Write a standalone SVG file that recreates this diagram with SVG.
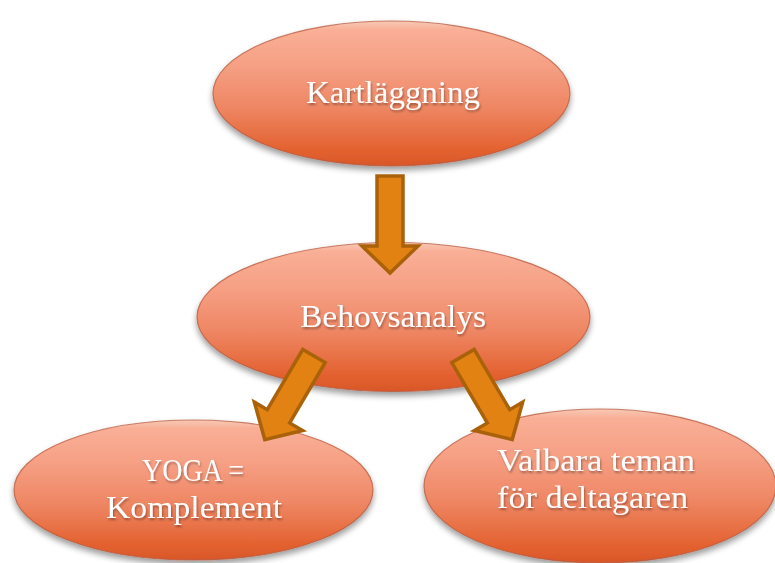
<svg xmlns="http://www.w3.org/2000/svg" width="775" height="563" viewBox="0 0 775 563">
  <defs>
    <linearGradient id="fillG" x1="0" y1="0" x2="0" y2="1">
      <stop offset="0" stop-color="#F7C9B6"/>
      <stop offset="0.06" stop-color="#F9AF96"/>
      <stop offset="0.3" stop-color="#F6A085"/>
      <stop offset="0.6" stop-color="#EE8663"/>
      <stop offset="0.9" stop-color="#E3602E"/>
      <stop offset="1" stop-color="#D8572B"/>
    </linearGradient>
    <filter id="shadow" x="-10%" y="-10%" width="120%" height="130%">
      <feGaussianBlur in="SourceAlpha" stdDeviation="3"/>
      <feOffset dx="0" dy="4" result="b"/>
      <feComponentTransfer><feFuncA type="linear" slope="0.4"/></feComponentTransfer>
      <feMerge><feMergeNode/><feMergeNode in="SourceGraphic"/></feMerge>
    </filter>
    <filter id="tshadow" x="-5%" y="-20%" width="110%" height="150%">
      <feGaussianBlur in="SourceAlpha" stdDeviation="1"/>
      <feOffset dx="1" dy="1.5"/>
      <feComponentTransfer><feFuncA type="linear" slope="0.35"/></feComponentTransfer>
      <feMerge><feMergeNode/><feMergeNode in="SourceGraphic"/></feMerge>
    </filter>
    <path id="arrow" d="M-13,0 L13,0 L13,70 L28,70 L0,97 L-28,70 L-13,70 Z"/>
  </defs>
  <style>
    .node { fill: url(#fillG); stroke: #B85A3E; stroke-opacity: 0.75; stroke-width: 1.2; filter: url(#shadow); }
    .lbl { font-family: "Liberation Serif", "DejaVu Serif", serif; font-size: 32px; fill: #FFFFFF; filter: url(#tshadow); }
    .arr { fill: #E28212; stroke: #A9620A; stroke-width: 3.5; stroke-linejoin: miter; }
  </style>

  <g id="node-kartlaggning">
    <ellipse class="node" cx="391.5" cy="93.5" rx="178.5" ry="72.5"/>
    <text class="lbl" x="393" y="103" text-anchor="middle" textLength="174" lengthAdjust="spacingAndGlyphs">Kartläggning</text>
  </g>

  <g id="node-behovsanalys">
    <ellipse class="node" cx="393.5" cy="317" rx="196.5" ry="74.5"/>
    <text class="lbl" x="393" y="327" text-anchor="middle" textLength="186" lengthAdjust="spacingAndGlyphs">Behovsanalys</text>
  </g>

  <g id="node-yoga">
    <ellipse class="node" cx="193.5" cy="490" rx="179.5" ry="70"/>
    <text class="lbl" x="193" y="481" text-anchor="middle" textLength="102" lengthAdjust="spacingAndGlyphs">YOGA =</text>
    <text class="lbl" x="194" y="518" text-anchor="middle" textLength="176" lengthAdjust="spacingAndGlyphs">Komplement</text>
  </g>

  <g id="node-valbara">
    <ellipse class="node" cx="600" cy="486" rx="176" ry="77"/>
    <text class="lbl" x="497" y="471" textLength="198" lengthAdjust="spacingAndGlyphs">Valbara teman</text>
    <text class="lbl" x="497" y="508" textLength="191" lengthAdjust="spacingAndGlyphs">för deltagaren</text>
  </g>

  <g id="connectors">
    <use href="#arrow" class="arr" transform="translate(390,176)"/>
    <use href="#arrow" class="arr" transform="translate(314,356) rotate(30.5)"/>
    <use href="#arrow" class="arr" transform="translate(463,356) rotate(-30.5)"/>
  </g>
</svg>
